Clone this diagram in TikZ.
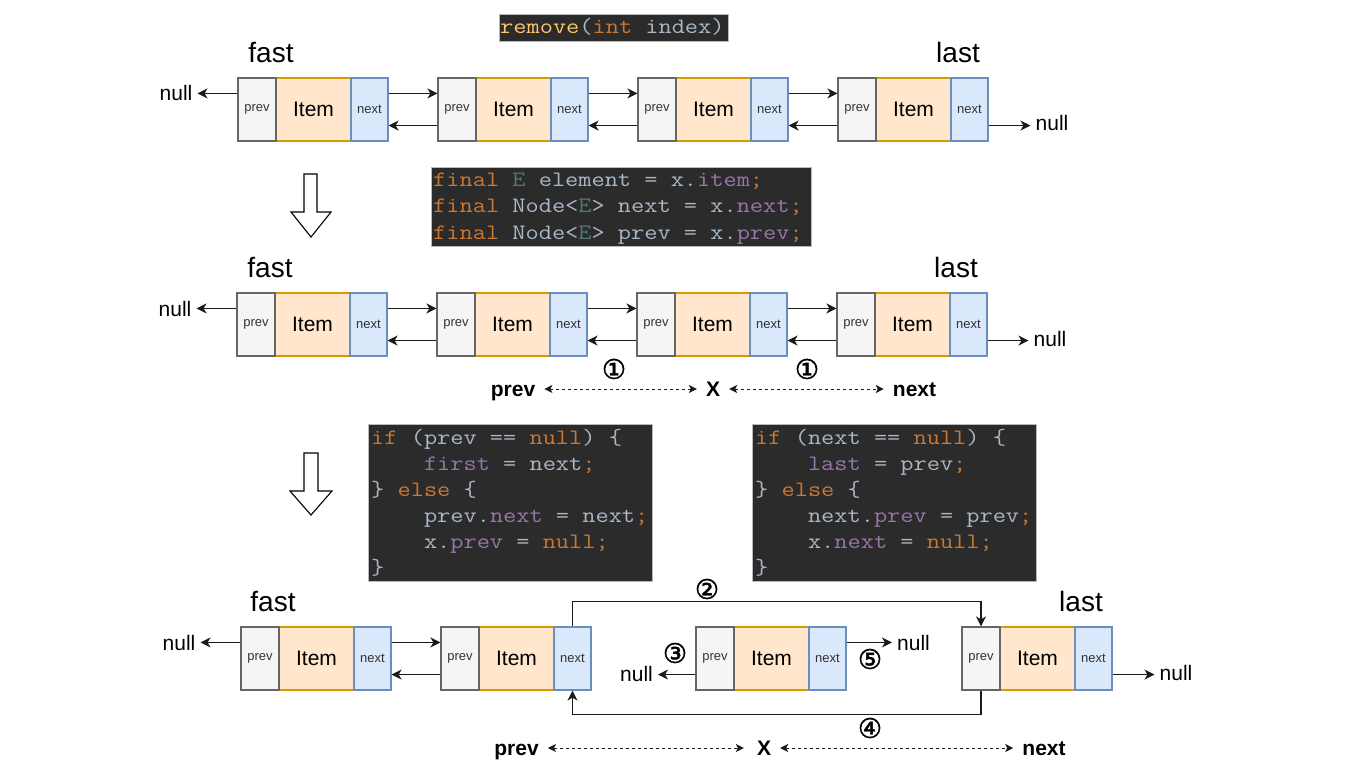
\documentclass[tikz,border=0pt]{standalone}
\usepackage{fontspec}
\setmainfont{Liberation Sans}
\newfontfamily\codefont[FakeStretch=1.165]{Latin Modern Mono}
\newfontfamily\circfont[FakeBold=1.6]{DejaVu Sans}
\usetikzlibrary{arrows.meta,calc}
\definecolor{codebg}{HTML}{2B2B2B}
\definecolor{codetx}{HTML}{A9B7C6}
\definecolor{codekw}{HTML}{CC7832}
\definecolor{codepu}{HTML}{9876AA}
\definecolor{codegr}{HTML}{507874}
\definecolor{codefn}{HTML}{FFC66D}
\definecolor{prevfill}{HTML}{F5F5F5}
\definecolor{prevdraw}{HTML}{666666}
\definecolor{itemfill}{HTML}{FFE6CC}
\definecolor{itemdraw}{HTML}{D79B00}
\definecolor{nextfill}{HTML}{DAE8FC}
\definecolor{nextdraw}{HTML}{6C8EBF}
\definecolor{ink}{HTML}{1A1A1A}
\newcommand\ckw[1]{\textcolor{codekw}{#1}}
\newcommand\cpu[1]{\textcolor{codepu}{#1}}
\newcommand\cgr[1]{\textcolor{codegr}{#1}}
\newcommand\cfn[1]{\textcolor{codefn}{#1}}
\tikzset{
  cell/.style={rectangle, minimum height=63pt, inner sep=0pt, line width=1.2pt},
  pcell/.style={cell, minimum width=38pt, fill=prevfill, draw=prevdraw, text=black!80, font=\fontsize{13}{15}\selectfont},
  icell/.style={cell, minimum width=75pt, fill=itemfill, draw=itemdraw, font=\fontsize{21}{24}\selectfont},
  ncell/.style={cell, minimum width=37pt, fill=nextfill, draw=nextdraw, text=black!80, font=\fontsize{13}{15}\selectfont},
  link/.style={draw=ink, line width=1.4pt, -{Stealth[length=10pt,width=10pt,inset=3pt]}},
  dbl/.style={draw=ink, line width=1pt, dash pattern=on 3pt off 3pt, {Stealth[length=8pt,width=8pt,inset=2pt]}-{Stealth[length=8pt,width=8pt,inset=2pt]}},
  nulltxt/.style={inner xsep=5pt, inner ysep=0pt, text height=14pt, text depth=0pt, font=\fontsize{21}{24}\selectfont},
  title/.style={inner sep=0pt, text height=19pt, text depth=0pt, font=\fontsize{28}{32}\selectfont},
  bold/.style={inner xsep=9pt, inner ysep=0pt, text height=15pt, text depth=0pt, font=\fontsize{21}{25}\selectfont\bfseries},
  circ/.style={inner sep=0pt, font=\circfont\fontsize{27}{30}\selectfont},
  codebox/.style={rectangle, fill=codebg, draw=gray!55, line width=0.8pt, inner sep=0pt},
  codeline/.style={anchor=base west, inner sep=0pt, text=codetx, font=\codefont\fontsize{22}{26}\selectfont},
  blockarrow/.style={draw=black, fill=white, line width=1.1pt, line join=miter}
}
\newcommand\lnode[3]{%
  \node[icell] (#1i) at (#2+75.5,#3+31.5) {Item};
  \node[pcell] (#1p) at (#2+19,#3+31.5) {prev};
  \node[ncell] (#1n) at (#2+131.5,#3+31.5) {next};}
\newcommand\fwd[2]{%
  \draw[link] ($(#1n.north east)!.25!(#1n.south east)$) -- ($(#2p.north west)!.25!(#2p.south west)$);
  \draw[link] ($(#2p.north west)!.75!(#2p.south west)$) -- ($(#1n.north east)!.75!(#1n.south east)$);}
% null arrow: #1 start coordinate name, #2 start point, #3 null node anchor
\newcommand\nullarrow[3]{%
  \coordinate (#1) at (#2);
  \draw[link] (#1) -- (#1 -| #3);}
\begin{document}
\begin{tikzpicture}[x=1pt,y=-1pt]
\useasboundingbox (0,0) rectangle (1370,770);
\fill[white] (0,0) rectangle (1370,770);
\frenchspacing
% ---------- title ----------
\node[codebox, minimum width=229pt, minimum height=27pt] (rm) at (613.5,27.5) {};
\node[codeline] (rmt) at (500,34) {\cfn{remove}(\ckw{int} index)};
% ---------- row 1 ----------
\lnode{a1}{238}{78}
\lnode{a2}{438}{78}
\lnode{a3}{638}{78}
\lnode{a4}{838}{78}
\fwd{a1}{a2}\fwd{a2}{a3}\fwd{a3}{a4}
\node[title] (fa1) at (271,53) {fast};
\node[title] (la1) at (958,53) {last};
\node[nulltxt] (na1) at (176,94) {null};
\node[nulltxt] (nb1) at (1052,124) {null};
\nullarrow{sa1}{$(a1p.north west)!.25!(a1p.south west)$}{na1.east}
\nullarrow{sb1}{$(a4n.north east)!.75!(a4n.south east)$}{nb1.west}
% ---------- arrow 1 + code 1 ----------
\draw[blockarrow] (304,174) -- (317,174) -- (317,212) -- (331,212) -- (311,237) -- (291,212) -- (304,212) -- cycle;
\node[codebox, minimum width=380pt, minimum height=79pt] (cb1) at (621,206.5) {};
\node[codeline] (c1a) at (433,186) {\ckw{final} \cgr{E} element = x.\cpu{item}\ckw{;}};
\node[codeline] (c1b) at (433,212.5) {\ckw{final} Node<\cgr{E}> next = x.\cpu{next}\ckw{;}};
\node[codeline] (c1c) at (433,239) {\ckw{final} Node<\cgr{E}> prev = x.\cpu{prev}\ckw{;}};
% ---------- row 2 ----------
\lnode{b1}{237}{293}
\lnode{b2}{437}{293}
\lnode{b3}{637}{293}
\lnode{b4}{837}{293}
\fwd{b1}{b2}\fwd{b2}{b3}\fwd{b3}{b4}
\node[title] (fa2) at (270,268) {fast};
\node[title] (la2) at (956,268) {last};
\node[nulltxt] (na2) at (175,309) {null};
\node[nulltxt] (nb2) at (1050,339) {null};
\nullarrow{sa2}{$(b1p.north west)!.25!(b1p.south west)$}{na2.east}
\nullarrow{sb2}{$(b4n.north east)!.75!(b4n.south east)$}{nb2.west}
\node[circ] (o1a) at (614,369) {①};
\node[circ] (o1b) at (807,369) {①};
\node[bold] (pv1) at (513,389) {prev};
\node[bold] (xx1) at (713,389) {X};
\node[bold] (nx1) at (914.5,389) {next};
\draw[dbl] (pv1.east) -- (xx1.west);
\draw[dbl] (xx1.east) -- (nx1.west);
% ---------- arrow 2 + code 2,3 ----------
\draw[blockarrow] (304,453) -- (318,453) -- (318,491) -- (332,491) -- (311,515) -- (290,491) -- (304,491) -- cycle;
\node[codebox, minimum width=284pt, minimum height=157pt] (cb2) at (510,502.5) {};
\node[codeline] (c2a) at (371,444) {\ckw{if} (prev == \ckw{null}) \{};
\node[codeline] (c2b) at (371,470) {\phantom{xxxx}\cpu{first} = next\ckw{;}};
\node[codeline] (c2c) at (371,496) {\} \ckw{else} \{};
\node[codeline] (c2d) at (371,522) {\phantom{xxxx}prev.\cpu{next} = next\ckw{;}};
\node[codeline] (c2e) at (371,548) {\phantom{xxxx}x.\cpu{prev} = \ckw{null;}};
\node[codeline] (c2f) at (371,574) {\}};
\node[codebox, minimum width=284pt, minimum height=157pt] (cb3) at (894,502.5) {};
\node[codeline] (c3a) at (755,444) {\ckw{if} (next == \ckw{null}) \{};
\node[codeline] (c3b) at (755,470) {\phantom{xxxx}\cpu{last} = prev\ckw{;}};
\node[codeline] (c3c) at (755,496) {\} \ckw{else} \{};
\node[codeline] (c3d) at (755,522) {\phantom{xxxx}next.\cpu{prev} = prev\ckw{;}};
\node[codeline] (c3e) at (755,548) {\phantom{xxxx}x.\cpu{next} = \ckw{null;}};
\node[codeline] (c3f) at (755,574) {\}};
% ---------- row 3 ----------
\lnode{d1}{241}{627}
\lnode{d2}{441}{627}
\lnode{d3}{696}{627}
\lnode{d4}{962}{627}
\fwd{d1}{d2}
\node[title] (fa3) at (273,602) {fast};
\node[title] (la3) at (1081,602) {last};
\node[nulltxt] (na3) at (179,643) {null};
\node[nulltxt] (nb3) at (1176,673) {null};
\nullarrow{sa3}{$(d1p.north west)!.25!(d1p.south west)$}{na3.east}
\nullarrow{sb3}{$(d4n.north east)!.75!(d4n.south east)$}{nb3.west}
\node[nulltxt] (nc3) at (636.5,674) {null};
\node[nulltxt] (nd3) at (913.5,643) {null};
\nullarrow{sc3}{$(d3p.north west)!.75!(d3p.south west)$}{nc3.east}
\nullarrow{sd3}{$(d3n.north east)!.25!(d3n.south east)$}{nd3.west}
\draw[link] (d2n.north) -- ++(0,-25) -| (d4p.north);
\draw[link] (d4p.south) -- ++(0,24) -| (d2n.south);
\node[circ] (o2) at (707,589) {②};
\node[circ] (o3) at (675,653) {③};
\node[circ] (o4) at (870,728) {④};
\node[circ] (o5) at (870,659) {⑤};
\node[bold] (pv2) at (516.5,748) {prev};
\node[bold] (xx2) at (764,748) {X};
\node[bold] (nx2) at (1044,748) {next};
\draw[dbl, shorten >=4pt] (pv2.east) -- (xx2.west);
\draw[dbl] (xx2.east) -- (nx2.west);
\end{tikzpicture}
\end{document}
